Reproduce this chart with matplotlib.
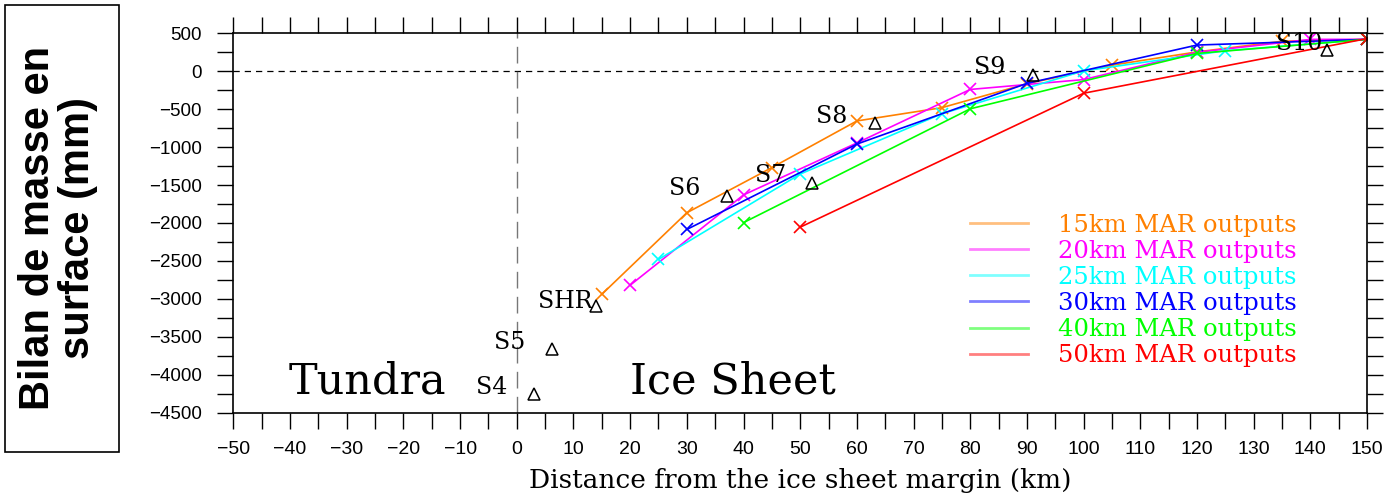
import numpy as np
import matplotlib
matplotlib.use('Agg')
import matplotlib.pyplot as plt
from matplotlib.lines import Line2D
from matplotlib.patches import Rectangle
from matplotlib.ticker import MultipleLocator

# MAR outputs, one series per resolution
x15 = [15, 30, 45, 60, 75, 90, 105, 120, 135, 150]
y15 = [-2940, -1865, -1270, -655, -480, -165, 80, 255, 395, 420]
x20 = [20, 40, 60, 80, 100, 120, 140, 150]
y20 = [-2820, -1630, -945, -240, -110, 250, 420, 420]
x25 = [25, 50, 75, 100, 125, 150]
y25 = [-2480, -1355, -560, 5, 270, 420]
x30 = [30, 60, 90, 120, 150]
y30 = [-2085, -960, -160, 345, 420]
x40 = [40, 80, 120, 150]
y40 = [-1995, -495, 235, 420]
x50 = [50, 100, 150]
y50 = [-2055, -290, 430]

series = [(x15, y15, '#ff8000', '15km MAR outputs'),
          (x20, y20, '#ff00ff', '20km MAR outputs'),
          (x25, y25, '#00ffff', '25km MAR outputs'),
          (x30, y30, '#0000ff', '30km MAR outputs'),
          (x40, y40, '#00ff00', '40km MAR outputs'),
          (x50, y50, '#ff0000', '50km MAR outputs')]

# Observed stations
stations = ['S4', 'S5', 'SHR', 'S6', 'S7', 'S8', 'S9', 'S10']
obs_x = [3, 6.2, 14, 37, 52, 63.2, 91, 143]
obs_y = [-4250, -3660, -3100, -1650, -1470, -680, -50, 275]
label_x = [-4.5, -1.2, 8.5, 29.7, 44.7, 55.6, 83.5, 138]
label_y = [-4170, -3570, -3040, -1550, -1380, -595, 55, 370]

fig = plt.figure(figsize=(13.89, 4.94), dpi=100)
ax = fig.add_axes([0.168, 0.1646, 0.8162, 0.768])

ax.axhline(0, color='black', lw=0.9, ls=(0, (5, 4)))
ax.axvline(0, color='#777777', lw=1.0, ls=(0, (12, 6)))

for xs, ys, c, lab in series:
    ax.plot(xs, ys, color=c, lw=1.2, marker='x', ms=9, mew=1.2)

ax.plot(obs_x, obs_y, ls='none', marker='^', ms=8, mfc='none', mec='black', mew=1.1)
for name, lx, ly in zip(stations, label_x, label_y):
    ax.text(lx, ly, name, ha='center', va='center', family='DejaVu Serif', fontsize=17)

ax.text(-26.4, -4090, 'Tundra', ha='center', va='center', family='DejaVu Serif', fontsize=31)
ax.text(38.2, -4090, 'Ice Sheet', ha='center', va='center', family='DejaVu Serif', fontsize=31)

ax.set_xlim(-50, 150)
ax.set_ylim(-4500, 500)
ax.xaxis.set_major_locator(MultipleLocator(10))
ax.xaxis.set_minor_locator(MultipleLocator(5))
ax.yaxis.set_major_locator(MultipleLocator(500))
ax.yaxis.set_minor_locator(MultipleLocator(250))
ax.tick_params(which='both', direction='out', length=11.5, width=1.0,
               top=True, right=True)
ax.tick_params(axis='x', pad=9, labelsize=14)
ax.tick_params(axis='y', pad=11, labelsize=13.5)
for t in ax.get_xticklabels():
    t.set_family('Liberation Sans')
for t in ax.get_yticklabels():
    t.set_family('Liberation Sans')
for s in ax.spines.values():
    s.set_linewidth(1.2)

ax.set_xlabel('Distance from the ice sheet margin (km)', family='DejaVu Serif',
              fontsize=19, labelpad=7)

handles = [Line2D([], [], color=c, lw=2, alpha=0.5) for _, _, c, _ in series]
ax.legend(handles, [s[3] for s in series], loc='upper left',
          bbox_to_anchor=(0.6498, 0.525), borderaxespad=0, borderpad=0,
          frameon=False, handlelength=2.4, handletextpad=1.2, labelspacing=0.13,
          labelcolor=[s[2] for s in series],
          prop={'family': 'DejaVu Serif', 'size': 17.5})

# boxed y label on the left
fig.patches.append(Rectangle((5 / 1389, 1 - 452 / 494), 114 / 1389, 447 / 494,
                             transform=fig.transFigure, fill=False,
                             ec='black', lw=1.2))
fig.text(58 / 1389, 1 - 228 / 494, 'Bilan de masse en\nsurface (mm)', rotation=90,
         ha='center', va='center', multialignment='center',
         family='Liberation Sans', weight='bold', fontsize=30, linespacing=1.0)

fig.savefig('out.png', dpi=100)
